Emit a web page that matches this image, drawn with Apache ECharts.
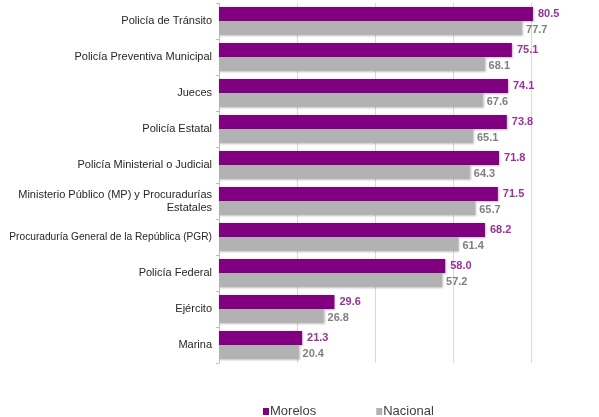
<!DOCTYPE html>
<html>
<head>
<meta charset="utf-8">
<script src="https://cdn.jsdelivr.net/npm/echarts@6/dist/echarts.min.js"></script>
<style>
  html, body { margin: 0; padding: 0; background: #fff; }
  #chart { width: 599px; height: 417px; }
</style>
</head>
<body>
<div id="chart"></div>
<script>
// categories (top to bottom)
var categories = [
    'Policía de Tránsito',
    'Policía Preventiva Municipal',
    'Jueces',
    'Policía Estatal',
    'Policía Ministerial o Judicial',
    'Ministerio Público (MP) y Procuradurías\nEstatales',
    'Procuraduría General de la República (PGR)',
    'Policía Federal',
    'Ejército',
    'Marina'
];
var morelos = [80.5, 75.1, 74.1, 73.8, 71.8, 71.5, 68.2, 58.0, 29.6, 21.3];
var nacional = [77.7, 68.1, 67.6, 65.1, 64.3, 65.7, 61.4, 57.2, 26.8, 20.4];

var font = "'Liberation Sans Narrow', 'Arial Narrow', 'Liberation Sans', sans-serif";

var chart = echarts.init(document.getElementById('chart'));

var option = {
    textStyle: { fontFamily: font },

    // Setup grid
    grid: {
        left: 219,
        right: 68,
        top: 3,
        bottom: 54,
        outerBoundsMode: 'none',
        containLabel: false
    },

    // Legend at bottom
    legend: {
        data: ['Morelos', 'Nacional'],
        top: 400,
        left: 258,
        itemWidth: 6,
        itemHeight: 7,
        itemGap: 60,
        icon: 'rect',
        textStyle: { fontSize: 13, color: '#404040', fontFamily: font, padding: [0, 0, 0, -4] }
    },

    color: ['#800080', '#b2b2b2'],

    // Horizontal axis
    xAxis: {
        type: 'value',
        min: 0,
        max: 80,
        interval: 20,
        axisLabel: { show: false },
        axisLine: { show: false },
        axisTick: { show: false },
        splitLine: { lineStyle: { color: '#d9d9d9' } }
    },

    // Vertical axis
    yAxis: {
        type: 'category',
        inverse: true,
        data: categories,
        axisLine: { show: true, lineStyle: { color: '#bfbfbf' } },
        axisTick: { show: true, length: 3, lineStyle: { color: '#bfbfbf' } },
        axisLabel: {
            color: '#262626',
            fontSize: 11,
            margin: 7,
            lineHeight: 13,
            fontFamily: font,
            // the longest one-line name is set a bit smaller so it fits
            formatter: function (v) {
                return (v.indexOf('\n') < 0 && v.length > 40) ? '{s|' + v + '}' : v;
            },
            rich: {
                s: { fontSize: 10.2, color: '#262626', fontFamily: font }
            }
        }
    },

    series: [
        {
            name: 'Morelos',
            type: 'bar',
            clip: false,
            barGap: 0,
            barCategoryGap: '22%',
            itemStyle: { shadowColor: 'rgba(0,0,0,0.25)', shadowBlur: 2, shadowOffsetX: 1, shadowOffsetY: 1 },
            label: {
                show: true,
                position: 'right',
                distance: 5,
                color: '#99329b',
                fontWeight: 'bold',
                fontSize: 11,
                fontFamily: font,
                formatter: function (p) { return p.value.toFixed(1); }
            },
            data: morelos
        },
        {
            name: 'Nacional',
            type: 'bar',
            clip: false,
            itemStyle: { shadowColor: 'rgba(0,0,0,0.25)', shadowBlur: 2, shadowOffsetX: 1, shadowOffsetY: 1 },
            label: {
                show: true,
                position: 'right',
                distance: 4,
                offset: [0, 2],
                color: '#7f7f7f',
                fontWeight: 'bold',
                fontSize: 11,
                fontFamily: font,
                formatter: function (p) { return p.value.toFixed(1); }
            },
            data: nacional
        }
    ]
};

chart.setOption(option);
</script>
</body>
</html>
